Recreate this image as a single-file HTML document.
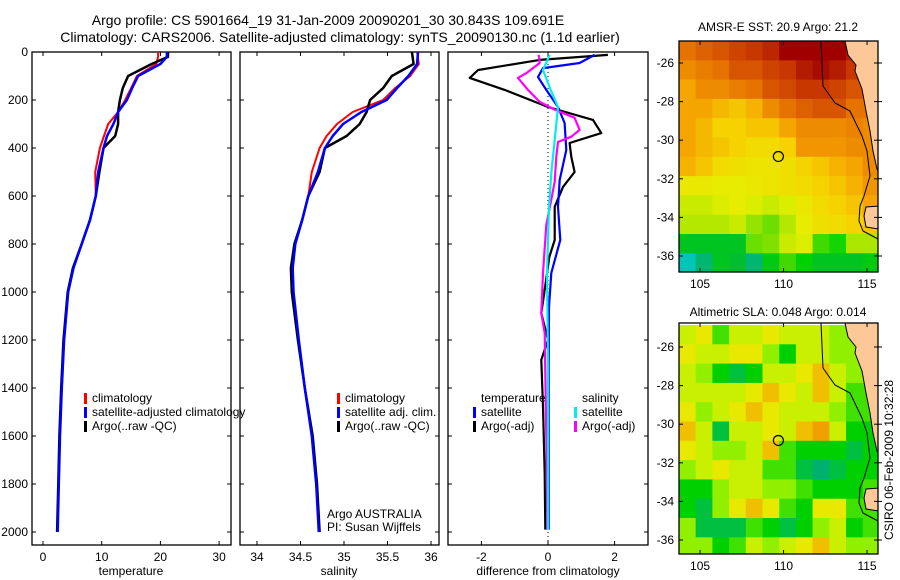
<!DOCTYPE html>
<html><head><meta charset="utf-8"><style>
html,body{margin:0;padding:0;background:#fff;}
svg{display:block;font-family:"Liberation Sans",sans-serif;}
</style></head><body>
<svg id="fig" width="900" height="580" viewBox="0 0 900 580">
<defs>
<clipPath id="c1"><rect x="32" y="52" width="199" height="493"/></clipPath>
<clipPath id="c2"><rect x="240" y="52" width="199" height="493"/></clipPath>
<clipPath id="c3"><rect x="448" y="52" width="200" height="493"/></clipPath>
<clipPath id="m1"><rect x="679" y="41" width="199" height="231"/></clipPath>
<clipPath id="m2"><rect x="679" y="323" width="199" height="231"/></clipPath>
</defs>
<text x="328" y="25" font-size="14" text-anchor="middle">Argo profile: CS 5901664_19 31-Jan-2009 20090201_30 30.843S 109.691E</text>
<text x="340" y="42" font-size="14" text-anchor="middle">Climatology: CARS2006. Satellite-adjusted climatology: synTS_20090130.nc (1.1d earlier)</text>
<text x="131" y="575" font-size="12" text-anchor="middle">temperature</text>
<text x="339" y="575" font-size="12" text-anchor="middle">salinity</text>
<text x="548" y="575" font-size="12" text-anchor="middle">difference from climatology</text>
<text x="778" y="31" font-size="12" text-anchor="middle">AMSR-E SST: 20.9 Argo: 21.2</text>
<text x="778" y="316" font-size="12" text-anchor="middle">Altimetric SLA: 0.048 Argo: 0.014</text>
<text transform="translate(893,460) rotate(-90)" font-size="12" text-anchor="middle">CSIRO 06-Feb-2009 10:32:28</text>
<text x="327" y="518" font-size="12">Argo AUSTRALIA</text>
<text x="327" y="531" font-size="12">PI: Susan Wijffels</text>
</svg>
<script>
// ---- profile data ----
const tDepth = [0,20,50,100,150,200,250,300,350,400,500,600,700,800,900,1000,1200,1400,1600,1800,2000];
const tClim  = [19.6,19.6,19.3,16.0,15.0,14.0,12.8,11.1,10.4,9.7,8.9,9.0,8.0,6.6,5.2,4.3,3.6,3.2,2.9,2.7,null];
const tSat   = [21.1,21.1,20.0,16.2,15.2,14.3,12.8,12.0,10.9,10.3,9.4,9.0,8.0,6.6,5.2,4.3,3.6,3.2,2.9,2.7,2.5];
const tArgo  = [21.3,21.3,18.5,14.5,13.6,13.1,12.8,12.8,12.3,10.3,9.6,9.0,8.0,6.6,5.1,4.2,3.5,3.1,2.8,2.6,2.4];
const sDepth = [0,50,100,150,200,250,300,350,400,500,600,700,800,900,1000,1200,1400,1600,1800,2000];
const sClim  = [35.84,35.86,35.76,35.59,35.45,35.10,34.92,34.80,34.72,34.63,34.59,34.52,34.44,34.41,34.42,34.48,34.55,34.63,34.68,34.72];
const sSat   = [35.85,35.84,35.74,35.61,35.49,35.20,34.99,34.87,34.78,34.70,34.59,34.52,34.44,34.41,34.42,34.48,34.55,34.63,34.68,34.71];
const sArgo  = [35.78,35.80,35.55,35.45,35.30,35.26,35.18,35.03,34.78,34.72,34.59,34.52,34.43,34.39,34.40,34.47,34.55,34.64,34.69,34.72];
const dDepthT = [12,33,75,108,158,229,283,338,379,437,500,562,645,783,854,991,1088,1200,1283,1479,1754,1990];
const dTempArgo = [1.8,-0.25,-2.1,-2.35,-1.3,0,1.35,1.6,0.65,0.7,0.8,0.45,0.2,0.2,0.04,-0.1,-0.2,0,-0.2,-0.15,-0.1,-0.08];
const dDepthS = [12,46,67,104,158,229,296,408,533,645,783,921,1062,1300,1600,1990];
const dTempSat = [1.4,0.95,-0.15,-0.3,-0.05,0.3,0.5,0.55,0.35,0.3,0.37,0.1,0.03,0.02,0.02,0.02];
const dSalSatDepth = [12,75,158,229,367,504,645,921,1300,1990];
const dSalSat = [0.05,-0.15,0.08,0.3,0.2,0.1,0.03,-0.03,0,0];
const dSalArgoDepth = [12,46,88,108,158,208,240,274,325,353,375,437,540,616,720,921,1088,1171,1337,1600,1990];
const dSalArgo = [-0.28,-0.25,-0.65,-0.9,-0.6,-0.25,0.2,0.8,0.95,0.7,0.3,0.25,0.2,0.1,-0.05,-0.15,-0.2,-0.1,-0.08,-0.05,-0.02];
const depthTicks = [0,200,400,600,800,1000,1200,1400,1600,1800,2000];
const tTicks = [0,10,20,30];
const sTicks = [34,34.5,35,35.5,36];
const dTicks = [-2,0,2];
// ---- map data (1 degree cells, rows from -25.4 to -36.4, cols 104.2..115.2) ----
const sstRows = [
[22.5,22.8,23,23.3,23.5,23.8,24.5,24.5,24.5,24.5,24,24],
[22,22.3,22.5,23,23,23.3,23.5,24,24.3,24,23.5,23],
[21.5,22,22,22.3,22.5,23,23.2,23.5,23.5,23.3,23,22.5],
[21.5,21.5,21.2,21,21.3,22,22.5,22.8,23,23,22.5,22.5],
[21.5,21.2,20.8,20.8,21,21,21.5,22,22,22,22.2,22],
[21.5,21.2,21,20.8,20.6,20.6,20.8,21.8,21.8,21.8,22,22],
[21.3,21,20.6,20.5,20.4,20.4,20.5,20.8,21,21.3,21.5,22],
[20.3,20.3,20.2,20.2,20.3,20.4,20.5,20.6,20.8,21,21.3,21.8],
[19.8,19.8,20,20.2,20,19.8,20,20.3,20.6,20.8,21,21.5],
[19.6,19.6,19.6,19.8,19.4,19.2,19.6,20.2,20.5,20.6,20.8,21],
[18.5,18.5,18.5,18.5,19.2,19.3,19.8,20,19,18.8,19.5,19.5],
[17.6,18,18.5,18.4,18,18.6,19,18.7,18.5,18.5,18.5,18.6]];
const slaRows = [
[5,6,3,5,5,6,5,5,5,4,4,4],
[6,5,5,6,6,4,2,5,5,4,4,4],
[5,4,2,1,2,5,5,6,7,5,4,4],
[5,5,5,5,6,7,6,5,7,5,3,3],
[6,4,5,6,7,6,5,5,5,4,3,3],
[7,5,1,5,5,6,5,7,8,5,2,2],
[6,5,4,4,5,7,3,2,2,2,1,2],
[4,5,6,5,5,3,3,1,0,1,2,2],
[2,2,4,5,5,4,4,3,2,2,2,3],
[2,1,4,6,7,6,3,2,6,6,3,3],
[4,1,1,1,3,2,1,2,4,5,2,3],
[4,4,2,3,5,4,5,6,7,5,4,4]];
const lonTicks = [105,110,115];
const latTicks = [-26,-28,-30,-32,-34,-36];
const argoLon = 109.691, argoLat = -30.843;

const NS = "http://www.w3.org/2000/svg";
const svg = document.getElementById('fig');
function mk(tag, attrs, parent){const e=document.createElementNS(NS,tag);for(const k in attrs)e.setAttribute(k,attrs[k]);(parent||svg).appendChild(e);return e;}
const yD = d => 52 + d*0.24;
const xT = v => 43 + v*5.87;
const xS = v => 257 + (v-34)*87;
const xDf = v => 548 + v*33.3;

function panelFrame(x0,x1,ticks,fx,fmt,name,leftLabels){
  const g=mk('g',{});
  
  
  mk('rect',{x:x0,y:52,width:x1-x0,height:493,fill:'none',stroke:'#000','stroke-width':1.3},g);
  depthTicks.forEach(d=>{const y=yD(d);
    mk('line',{x1:x0,y1:y,x2:x0+4,y2:y,stroke:'#000'},g);
    mk('line',{x1:x1-4,y1:y,x2:x1,y2:y,stroke:'#000'},g);
    if(leftLabels){const t=mk('text',{x:28,y:y+4,'font-size':12,'text-anchor':'end'},g);t.textContent=d;
      
      }
  });
  ticks.forEach(v=>{const x=fx(v);
    mk('line',{x1:x,y1:52,x2:x,y2:56,stroke:'#000'},g);
    mk('line',{x1:x,y1:541,x2:x,y2:545,stroke:'#000'},g);
    const t=mk('text',{x:x,y:561,'font-size':12,'text-anchor':'middle'},g);t.textContent=fmt(v);
    
    
  });
}
function line(depths,vals,fx,color,w,clip,name){
  let d='';let pen=false;
  for(let i=0;i<depths.length;i++){ if(vals[i]==null){pen=false;continue;}
    d+=(pen?'L':'M')+fx(vals[i]).toFixed(1)+','+yD(depths[i]).toFixed(1);pen=true;}
  const p=mk('path',{d:d,fill:'none',stroke:color,'stroke-width':w,'clip-path':'url(#'+clip+')','stroke-linejoin':'round'});
  
  
}
function legend(x,y0,items){
  items.forEach((it,i)=>{const y=y0+i*14;
    if(it[1]) mk('rect',{x:x,y:y-9,width:3,height:11,fill:it[1]});
    const t=mk('text',{x:x+8,y:y,'font-size':12},svg);t.textContent=it[0];
    
    
  });
}
panelFrame(32,231,tTicks,xT,v=>v,'temperature',true);
panelFrame(240,439,sTicks,xS,v=>v,'salinity',false);
panelFrame(448,648,dTicks,xDf,v=>v,'difference',false);
line(tDepth,tClim,xT,'#f00',2,'c1','temp-climatology-line');
line(tDepth,tArgo,xT,'#000',2.5,'c1','temp-argo-line');
line(tDepth,tSat,xT,'#00f',2.5,'c1','temp-satellite-line');
line(sDepth,sClim,xS,'#f00',2,'c2','sal-climatology-line');
line(sDepth,sArgo,xS,'#000',2.5,'c2','sal-argo-line');
line(sDepth,sSat,xS,'#00f',2.5,'c2','sal-satellite-line');
const zl=mk('line',{x1:xDf(0),y1:52,x2:xDf(0),y2:545,stroke:'#000','stroke-dasharray':'1,3'});


line(dDepthT,dTempArgo,xDf,'#000',2.2,'c3','diff-temp-argo-line');
line(dDepthS,dTempSat,xDf,'#00f',2.2,'c3','diff-temp-satellite-line');
line(dSalArgoDepth,dSalArgo,xDf,'#f0f',2.2,'c3','diff-sal-argo-line');
line(dSalSatDepth,dSalSat,xDf,'#0ee',2.2,'c3','diff-sal-satellite-line');
legend(84,402,[['climatology','#f00'],['satellite-adjusted climatology','#00f'],['Argo(..raw -QC)','#000']]);
legend(337,402,[['climatology','#f00'],['satellite adj. clim.','#00f'],['Argo(..raw -QC)','#000']]);
legend(473,402,[['temperature',null],['satellite','#00f'],['Argo(-adj)','#000']]);
legend(574,402,[['salinity',null],['satellite','#0ee'],['Argo(-adj)','#f0f']]);

// ---- maps ----
function rgb(c){return 'rgb('+c.join(',')+')';}
function lerpC(stops,v){
  if(v<=stops[0][0])return rgb(stops[0][1]);
  for(let i=1;i<stops.length;i++){if(v<=stops[i][0]){const a=stops[i-1],b=stops[i];const t=(v-a[0])/(b[0]-a[0]);
    const ca=a[1],cb=b[1];return rgb(ca.map((c,j)=>Math.round(c+(cb[j]-c)*t)));}}
  return rgb(stops[stops.length-1][1]);
}
const sstStops=[[17.5,[0,200,200]],[18.2,[0,176,80]],[18.7,[0,210,0]],[19.5,[170,230,0]],[20.1,[230,240,0]],[20.8,[245,210,0]],[21.5,[245,165,0]],[22.5,[230,115,0]],[23.5,[200,55,0]],[24.5,[160,0,0]]];
const slaStops=[[0,[0,176,112]],[1,[0,192,64]],[2,[0,208,0]],[3,[64,224,0]],[4,[144,240,0]],[5,[200,240,0]],[6,[232,232,0]],[7,[240,192,0]],[8,[240,160,0]]];
function drawMap(top,rows,stops,clip,name,lat0){
  const lonX = lon => 679 + (lon-103.74)*16.7;
  const latY = lat => lat0 + (-26-lat)*19.3;
  const g=mk('g',{'clip-path':'url(#'+clip+')'});
  
  
  rows.forEach((row,r)=>row.forEach((v,c)=>{
    const lonL=103.74+c, latT=-24.86-r;
    const cell=mk('rect',{x:lonX(lonL).toFixed(1),y:latY(latT).toFixed(1),width:17.2,height:19.8,fill:lerpC(stops,v)},g);
    
    
  }));
  const o=top;
  const land=mk('path',{d:`M845,${o}L848,${o+14}L856,${o+24}L855,${o+30}L862,${o+48}L866,${o+70}L870,${o+90}L873,${o+110}L877,${o+128}L879,${o+132}L879,${o}Z M879,${o+165}L866,${o+166}L864,${o+175}L866,${o+186}L879,${o+188}Z`,fill:'#fdc897',stroke:'#000','stroke-width':1},g);
  
  
  const shelf=mk('path',{d:`M821,${o}L823,${o+45}L835,${o+62}L850,${o+70}L862,${o+95}L867,${o+110}L870,${o+135}L864,${o+155}L860,${o+165}L859,${o+180}L863,${o+190}L878,${o+198}`,fill:'none',stroke:'#000','stroke-width':1},g);
  
  
  const bx=mk('rect',{x:679,y:top,width:199,height:231,fill:'none',stroke:'#000','stroke-width':1.3});
  
  
  lonTicks.forEach(l=>{const x=lonX(l);
    mk('line',{x1:x,y1:top,x2:x,y2:top+4,stroke:'#000'});
    mk('line',{x1:x,y1:top+227,x2:x,y2:top+231,stroke:'#000'});
    const t=mk('text',{x:x,y:top+247,'font-size':12,'text-anchor':'middle'});t.textContent=l;
    
    
  });
  latTicks.forEach(l=>{const y=latY(l);
    mk('line',{x1:679,y1:y,x2:683,y2:y,stroke:'#000'});
    mk('line',{x1:874,y1:y,x2:882,y2:y,stroke:'#000'});
    const t=mk('text',{x:674,y:y+4,'font-size':12,'text-anchor':'end'});t.textContent=l;
    
    
  });
  const m=mk('circle',{cx:lonX(argoLon),cy:latY(argoLat),r:5,fill:'none',stroke:'#000','stroke-width':1.2});
  
  
}
drawMap(41,sstRows,sstStops,'m1','sst-map',63);
drawMap(323,slaRows,slaStops,'m2','sla-map',347);
</script>
</body></html>
